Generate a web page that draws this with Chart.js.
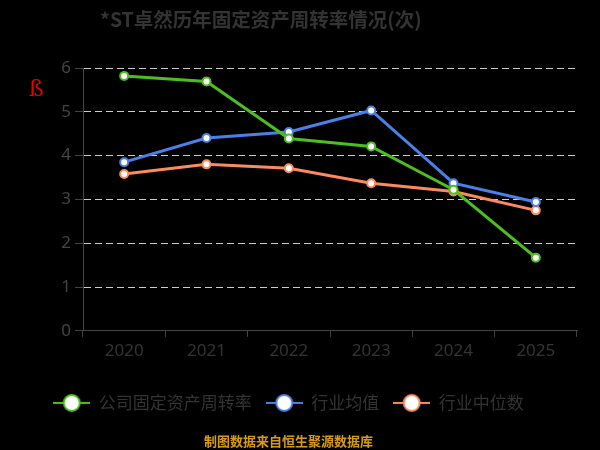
<!DOCTYPE html>
<html>
<head>
<meta charset="utf-8">
<script src="https://cdn.jsdelivr.net/npm/chart.js@4/dist/chart.umd.min.js"></script>
<style>
  html, body { margin: 0; padding: 0; background: #000; }
  #wrap { position: relative; width: 600px; height: 450px; }
  #title { position: absolute; left: 100px; top: 4px; color: #333; font: bold 19.5px "Noto Sans CJK SC", sans-serif; white-space: nowrap; }
  #mark { position: absolute; left: 29px; top: 76px; color: #e00; font: 22px "DejaVu Serif", serif; }
</style>
</head>
<body>
<div id="wrap">
  <canvas id="c" width="600" height="450"></canvas>
  <div id="title">*ST卓然历年固定资产周转率情况(次)</div>
  <div id="mark">ß</div>
</div>
<script>
const years = ["2020", "2021", "2022", "2023", "2024", "2025"];
const companyVals = [5.82, 5.69, 4.39, 4.21, 3.22, 1.67];
const industryAvg = [3.85, 4.40, 4.54, 5.03, 3.37, 2.94];
const industryMedian = [3.58, 3.80, 3.71, 3.37, 3.18, 2.75];
const yTicks = [0, 1, 2, 3, 4, 5, 6];

const cjk = '"Noto Sans CJK SC", "Noto Sans", sans-serif';
const colors = ["#4cbf1e", "#4a80e8", "#fb8a5c"];

// legend icon: short line with a hollow circle
function legendIcon(color) {
    const cv = document.createElement("canvas");
    cv.width = 37; cv.height = 20;
    const g = cv.getContext("2d");
    g.strokeStyle = color;
    g.lineWidth = 2;
    g.beginPath(); g.moveTo(0, 10); g.lineTo(37, 10); g.stroke();
    g.beginPath(); g.arc(18.5, 10, 8, 0, Math.PI * 2);
    g.fillStyle = "#fff"; g.fill();
    g.lineWidth = 2; g.stroke();
    return cv;
}

function series(label, data, color) {
    return {
        label: label,
        data: data,
        borderColor: color,
        backgroundColor: "#fff",
        borderWidth: 3,
        pointRadius: 4,
        pointBorderWidth: 2,
        pointBackgroundColor: "#fff",
        pointBorderColor: color,
        tension: 0
    };
}

const ctx = document.getElementById("c").getContext("2d");
new Chart(ctx, {
    type: "line",
    data: {
        labels: years,
        datasets: [
            series("公司固定资产周转率", companyVals, colors[0]),
            series("行业均值", industryAvg, colors[1]),
            series("行业中位数", industryMedian, colors[2])
        ]
    },
    options: {
        responsive: false,
        animation: false,
        layout: { padding: { left: 0, right: 23, top: 68, bottom: 0 } },
        plugins: {
            title: { display: false },
            subtitle: {
                display: true,
                position: "bottom",
                text: "制图数据来自恒生聚源数据库",
                color: "#d9991f",
                font: { family: cjk, size: 13, weight: "bold" },
                padding: { top: 12, bottom: 1 }
            },
            legend: {
                position: "bottom",
                title: { display: true, text: " ", font: { size: 1 }, padding: { top: 14, bottom: 0 } },
                labels: {
                    usePointStyle: true,
                    pointStyleWidth: 37,
                    color: "#333",
                    font: { family: cjk, size: 17 },
                    padding: 14,
                    generateLabels: (chart) => chart.data.datasets.map((ds, i) => ({
                        text: ds.label,
                        fontColor: "#333",
                        pointStyle: legendIcon(colors[i]),
                        datasetIndex: i,
                        hidden: false,
                        lineWidth: 0
                    }))
                }
            },
            tooltip: { enabled: false }
        },
        scales: {
            x: {
                offset: true,
                grid: {
                    offset: true,
                    drawOnChartArea: false,
                    drawTicks: true,
                    tickLength: 6,
                    tickColor: "#444"
                },
                border: { color: "#444", width: 1 },
                ticks: { color: "#333", font: { family: '"Noto Sans", sans-serif', size: 17 }, padding: 4 }
            },
            y: {
                min: yTicks[0],
                max: yTicks[yTicks.length - 1],
                afterBuildTicks: (axis) => { axis.ticks = yTicks.map(v => ({ value: v })); },
                afterFit: (axis) => { axis.width = 83; },
                grid: {
                    color: (c) => c.tick && c.tick.value === 0 ? "rgba(0,0,0,0)" : "#ccc",
                    tickColor: "#444",
                    tickBorderDash: [],
                    tickLength: 8
                },
                border: { color: "#444", width: 1, dash: [7, 4] },
                ticks: { color: "#444", font: { family: '"Noto Sans", sans-serif', size: 17 }, padding: 4 }
            }
        }
    }
});
</script>
</body>
</html>
